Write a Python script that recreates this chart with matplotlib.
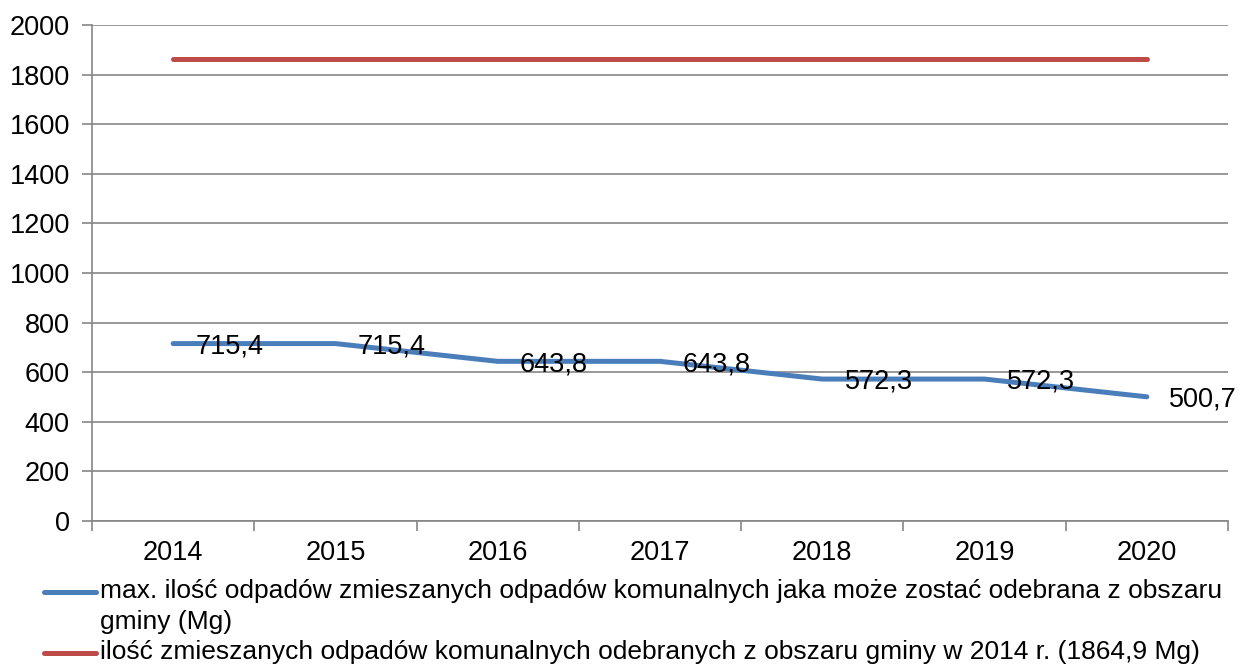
import matplotlib
matplotlib.use("Agg")
import matplotlib.pyplot as plt
from matplotlib.lines import Line2D
import numpy as np

years = ["2014", "2015", "2016", "2017", "2018", "2019", "2020"]
max_vals = [715.4, 715.4, 643.8, 643.8, 572.3, 572.3, 500.7]
ref_vals = [1864.9] * 7
labels_max = ["715,4", "715,4", "643,8", "643,8", "572,3", "572,3", "500,7"]
y_ticks = [0, 200, 400, 600, 800, 1000, 1200, 1400, 1600, 1800, 2000]
legend_labels = [
    "max. ilość odpadów zmieszanych odpadów komunalnych jaka może zostać odebrana z obszaru\ngminy (Mg)",
    "ilość zmieszanych odpadów komunalnych odebranych z obszaru gminy w 2014 r. (1864,9 Mg)",
]

plt.rcParams['font.family'] = ['Liberation Sans', 'DejaVu Sans']
fs = 19.5
fs_leg = 19.0
grid_c = "#868686"
W, H = 1238, 666

fig = plt.figure(figsize=(W/100, H/100), dpi=100)
ax = fig.add_axes([92/W, 1-521/H, (1228-92)/W, (521-25)/H])

x = np.arange(len(years))
l1, = ax.plot(x, max_vals, color="#4A7EBB", lw=3.6, solid_capstyle="round", solid_joinstyle="round")
l2, = ax.plot(x, ref_vals, color="#BE4B48", lw=3.6, solid_capstyle="round")

for xi, v, t in zip(x, max_vals, labels_max):
    ax.annotate(t, (xi, v), xytext=(16, -2), textcoords="offset points",
                ha="left", va="center", fontsize=fs, color="black")

ax.set_xlim(-0.5, len(years) - 0.5)
ax.set_ylim(0, 2000)
ax.set_yticks(y_ticks)
ax.set_yticklabels([str(v) for v in y_ticks], fontsize=fs)
ax.yaxis.grid(True, color=grid_c, lw=1.2)
ax.set_axisbelow(True)

ax.set_xticks(x)
ax.set_xticklabels(years, fontsize=fs)
ax.set_xticks(np.arange(len(years) + 1) - 0.5, minor=True)
ax.tick_params(axis="x", which="major", length=0, pad=14)
ax.tick_params(axis="x", which="minor", length=7, color=grid_c, width=1.2)
ax.tick_params(axis="y", length=7, color=grid_c, width=1.2, pad=9)

for s in ["top", "right"]:
    ax.spines[s].set_visible(False)
for s in ["left", "bottom"]:
    ax.spines[s].set_color(grid_c)
    ax.spines[s].set_linewidth(1.2)

# legend drawn manually so the handle aligns with the first text line
leg_rows = [592, 653]
for line, lab, y1 in zip([l1, l2], legend_labels, leg_rows):
    fig.add_artist(Line2D([44/W, 96/W], [1-y1/H, 1-y1/H], color=line.get_color(),
                          lw=3.6, solid_capstyle="round", transform=fig.transFigure))
    fig.text(100/W, 1-(y1-13)/H, lab, fontsize=fs_leg, ha="left", va="top",
             linespacing=1.36)

fig.savefig("out.png", dpi=100)
